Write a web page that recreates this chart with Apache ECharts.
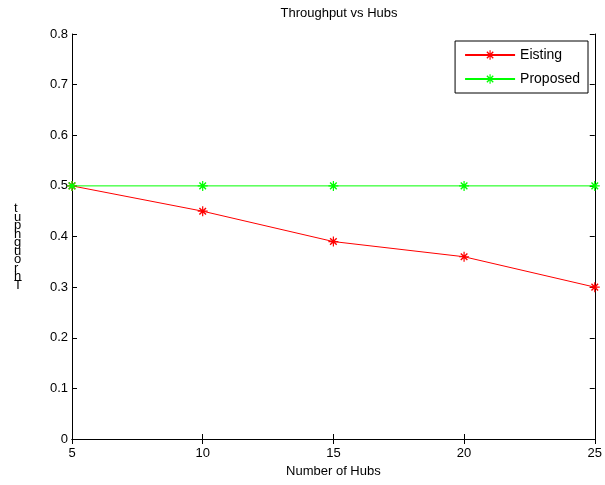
<!DOCTYPE html>
<html>
<head>
<meta charset="utf-8">
<script src="https://cdn.jsdelivr.net/npm/echarts@6/dist/echarts.min.js"></script>
<style>
  html, body { margin: 0; padding: 0; background: #fff; }
  #chart { width: 605px; height: 485px; }
</style>
</head>
<body>
<div id="chart"></div>
<script>
  var hubs = [5, 10, 15, 20, 25];
  var existing = [0.5, 0.45, 0.39, 0.36, 0.30];
  var proposed = [0.5, 0.5, 0.5, 0.5, 0.5];
  var seriesNames = ['Eisting', 'Proposed'];

  // asterisk marker: three thin bars crossing
  var star = 'path://M4.4,0H5.6V10H4.4Z M0,4.4H10V5.6H0Z M1.2,2.2L2.2,1.2L8.8,7.8L7.8,8.8Z M7.8,1.2L8.8,2.2L2.2,8.8L1.2,7.8Z';

  function pairs(ys) {
    return hubs.map(function (x, i) { return [x, ys[i]]; });
  }

  var chart = echarts.init(document.getElementById('chart'));
  var font = 'Arial, "Liberation Sans", sans-serif';

  var baseAxis = {
    axisLine: { show: true, lineStyle: { color: '#000', width: 1 } },
    axisTick: { show: true, inside: true, length: 5, lineStyle: { color: '#000' } },
    splitLine: { show: false }
  };

  var option = {
    animation: false,
    backgroundColor: '#fff',
    title: {
      text: 'Throughput vs Hubs',
      left: 334, top: 2, textAlign: 'center',
      textStyle: { fontFamily: font, fontSize: 13, fontWeight: 'normal', color: '#000' }
    },
    grid: { left: 72, right: 8, top: 34, bottom: 46 },
    legend: {
      data: seriesNames,
      orient: 'vertical',
      right: 17, top: 41,
      backgroundColor: '#fff',
      borderColor: '#000', borderWidth: 1, borderRadius: 0,
      padding: [7, 8, 7, 9],
      itemGap: 10,
      itemWidth: 50, itemHeight: 12,
      textStyle: { fontFamily: font, fontSize: 14, color: '#000' }
    },
    xAxis: [
      Object.assign({}, baseAxis, {
        type: 'value', min: 5, max: 25, interval: 5,
        name: 'Number of Hubs', nameLocation: 'middle', nameGap: 25,
        nameTextStyle: { fontFamily: font, fontSize: 13, color: '#000' },
        axisLabel: { fontFamily: font, fontSize: 13, color: '#000', margin: 8 }
      }),
      Object.assign({}, baseAxis, {
        type: 'value', min: 5, max: 25, interval: 5, position: 'top',
        axisLabel: { show: false }
      })
    ],
    yAxis: [
      Object.assign({}, baseAxis, {
        type: 'value', min: 0, max: 0.8, interval: 0.1,
        axisLabel: { fontFamily: font, fontSize: 13, color: '#000', margin: 4 }
      }),
      Object.assign({}, baseAxis, {
        type: 'value', min: 0, max: 0.8, interval: 0.1, position: 'right',
        axisLabel: { show: false }
      })
    ],
    graphic: [{
      type: 'text',
      left: 14, top: 202,
      style: {
        text: 't\nu\np\nh\ng\nu\no\nr\nh\nT',
        font: '13px Arial, "Liberation Sans", sans-serif',
        lineHeight: 8.5,
        fill: '#000',
        align: 'center'
      }
    }],
    series: [
      {
        name: seriesNames[0], type: 'line', data: pairs(existing),
        symbol: star, symbolSize: 10, showAllSymbol: true,
        itemStyle: { color: '#ff0000' },
        lineStyle: { color: '#ff0000', width: 1 }
      },
      {
        name: seriesNames[1], type: 'line', data: pairs(proposed),
        symbol: star, symbolSize: 10, showAllSymbol: true,
        itemStyle: { color: '#00ff00' },
        lineStyle: { color: '#00ff00', width: 1 }
      }
    ]
  };

  chart.setOption(option);
</script>
</body>
</html>
